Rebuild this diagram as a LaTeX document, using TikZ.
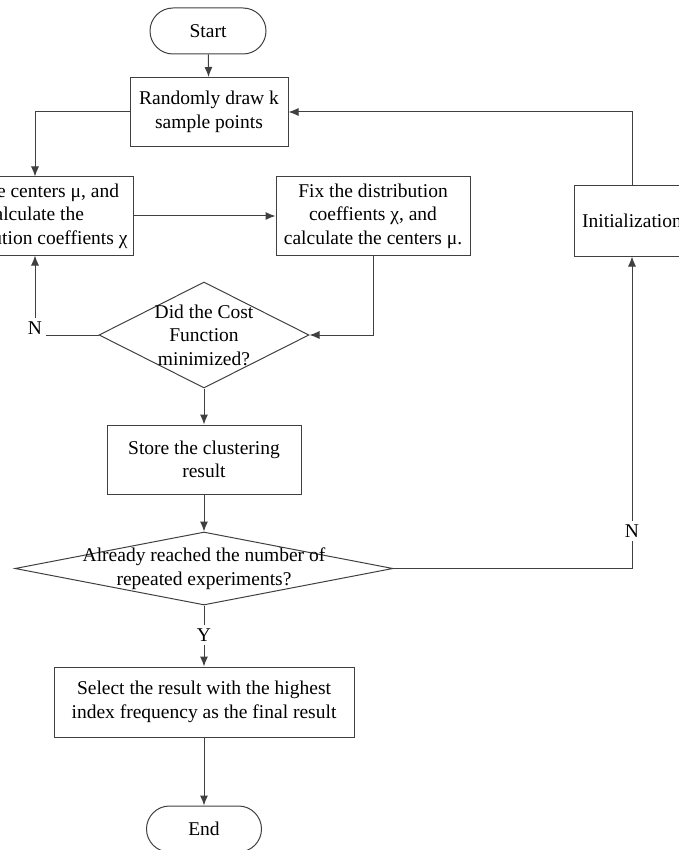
\documentclass[tikz,border=0pt]{standalone}
\usepackage{fontspec}
\setmainfont{Liberation Serif}
\usetikzlibrary{arrows.meta,shapes.geometric,positioning}
\definecolor{edge}{RGB}{64,64,64}

\begin{document}
\begin{tikzpicture}[x=1pt, y=-1pt,
    font=\fontsize{19.5}{23.5}\selectfont,
    terminal/.style={rectangle, rounded corners=23pt, draw=edge, line width=1pt,
                     minimum width=116pt, minimum height=46pt, inner sep=0pt},
    process/.style={rectangle, draw=edge, line width=1pt, align=center, inner sep=0pt},
    decision/.style={diamond, draw=edge, line width=1pt, inner sep=0pt},
    flow/.style={draw=edge, line width=1pt, -{Latex[length=10pt,width=8pt]}},
    plain/.style={draw=edge, line width=1pt}
]
    \useasboundingbox (0,0) rectangle (678,850);

    % Main column
    \node[terminal] (start) at (208,31) {Start};
    \node[process, minimum width=158pt, minimum height=69pt] (sample) at (209,112)
        {Randomly draw k\\sample points};

    % Alternating updates
    \node[process, minimum width=196pt, minimum height=78pt] (fixmu) at (35,216)
        {Fix the centers μ, and\\calculate the\\distribution coeffients χ};
    \node[process, minimum width=194pt, minimum height=78pt] (fixchi) at (373,216)
        {Fix the distribution\\coeffients χ, and\\calculate the centers μ.};
    \node[process, minimum width=116pt, minimum height=70pt] (init) at (632,221)
        {Initialization};

    % Decisions and results
    \node[decision, minimum width=210pt, minimum height=106pt,
          label={[align=center]center:Did the Cost\\Function\\minimized?}] (cost) at (204,335) {};
    \node[process, minimum width=194pt, minimum height=69pt] (store) at (204,459.5)
        {Store the clustering\\result};
    \node[decision, minimum width=378pt, minimum height=73pt,
          label={[align=center]center:Already reached the number of\\repeated experiments?}] (repeat) at (204,568.5) {};
    \node[process, minimum width=300pt, minimum height=70pt] (select) at (204,702)
        {Select the result with the highest\\index frequency as the final result};
    \node[terminal, minimum width=115pt] (end) at (204,829) {End};

    % Branch labels
    \node (nleft) at (35,328) {N};
    \node (nright) at (632,531) {N};
    \node (yes) at (204,635) {Y};

    % Arrows
    \draw[flow] (start) -- (sample);
    \draw[flow] (sample.west) -| (fixmu.north);
    \draw[flow] (fixmu.east) -- (fixchi.west);
    \draw[flow] (fixchi.south) |- (cost.east);
    \draw[plain] (cost.west) -- (cost.west -| nleft.east);
    \draw[flow] (nleft) -- (fixmu.south);
    \draw[flow] (cost.south) -- (store.north);
    \draw[flow] (store.south) -- (repeat.north);
    \draw[plain] (repeat.east) -| (nright.south);
    \draw[flow] (nright) -- (init.south);
    \draw[flow] (init.north) |- (sample.east);
    \draw[plain] (repeat.south) -- (yes);
    \draw[flow] (yes) -- (select.north);
    \draw[flow] (select) -- (end);
\end{tikzpicture}
\end{document}
